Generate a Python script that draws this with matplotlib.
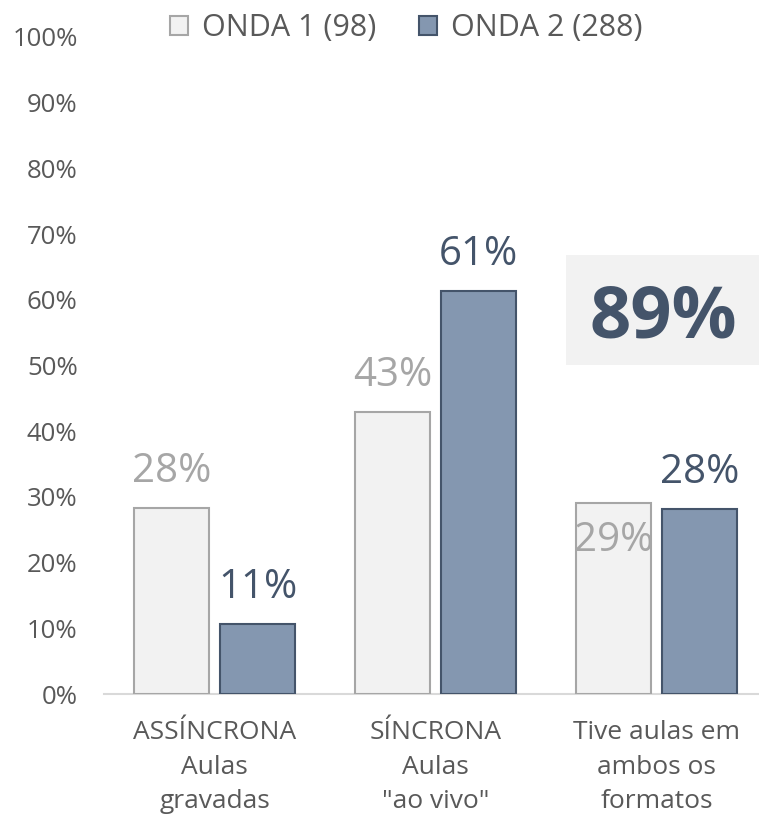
import matplotlib
matplotlib.use("Agg")
import matplotlib.pyplot as plt
from matplotlib.patches import Rectangle
import numpy as np

plt.rcParams['font.family'] = ['Open Sans', 'DejaVu Sans']

categories = ["ASSÍNCRONA\nAulas\ngravadas", "SÍNCRONA\nAulas\n\"ao vivo\"", "Tive aulas em\nambos os\nformatos"]
series_names = ["ONDA 1 (98)", "ONDA 2 (288)"]
onda1 = [28.3, 42.9, 29.1]
onda2 = [10.7, 61.4, 28.2]
onda1_labels = ["28%", "43%", "29%"]
onda2_labels = ["11%", "61%", "28%"]
highlight_text = "89%"
yticks = [0, 10, 20, 30, 40, 50, 60, 70, 80, 90, 100]
ytick_labels = [f"{v}%" for v in yticks]

W, H = 759, 819
fig = plt.figure(figsize=(W / 100, H / 100), dpi=100)
fig.add_artist(Rectangle((566 / W, 1 - 365 / H), (759 - 566) / W, 110 / H, transform=fig.transFigure,
                         facecolor="#F2F2F2", edgecolor="none", zorder=-1))
ax = fig.add_axes([104 / W, (H - 694) / H, (759 - 104) / W, 657 / H])
ax.patch.set_alpha(0)

x = np.arange(len(categories))
bw = 75 / 221
off = 43 / 221
c1_fill, c1_edge = "#F2F2F2", "#A6A6A6"
c2_fill, c2_edge = "#8497B0", "#44546A"

b1 = ax.bar(x - off, onda1, bw, color=c1_fill, edgecolor=c1_edge, linewidth=1.5, label=series_names[0], zorder=2)
b2 = ax.bar(x + off, onda2, bw, color=c2_fill, edgecolor=c2_edge, linewidth=1.5, label=series_names[1], zorder=2)

# label offsets in points (vertical center relative to bar top)
off1 = [26, 26, -27]
off2 = [26, 26, 26]
for i in range(len(categories)):
    ax.annotate(onda1_labels[i], (x[i] - off, onda1[i]), xytext=(0, off1[i]), textcoords="offset points",
                ha="center", va="center", fontsize=29, color=c1_edge, zorder=3)
    ax.annotate(onda2_labels[i], (x[i] + off, onda2[i]), xytext=(0, off2[i]), textcoords="offset points",
                ha="center", va="center", fontsize=29, color=c2_edge, zorder=3)

ax.set_xlim(-0.5, 2 + 102.5 / 221)
ax.set_ylim(0, 100)
ax.set_yticks(yticks)
ax.set_yticklabels(ytick_labels)
ax.set_xticks(x)
ax.set_xticklabels(categories, linespacing=1.5)
ax.tick_params(axis="y", length=0, pad=19, labelsize=18.5, labelcolor="#595959")
ax.tick_params(axis="x", length=0, pad=19, labelsize=19, labelcolor="#595959")
for s in ["top", "right", "left"]:
    ax.spines[s].set_visible(False)
ax.spines["bottom"].set_color("#D9D9D9")
ax.spines["bottom"].set_linewidth(1.5)
ax.spines["bottom"].set_zorder(1)

leg = fig.legend(handles=[b1, b2], loc="center", bbox_to_anchor=(406 / W, 1 - 28 / H), ncol=2, frameon=False,
                 fontsize=22, handlelength=0.6, handleheight=0.6, handletextpad=0.45, columnspacing=1.4,
                 labelcolor="#595959")

fig.text(663 / W, 1 - 338 / H, highlight_text, ha="center", va="baseline", fontsize=52, fontweight="bold",
         color="#44546A")

fig.savefig("out.png", dpi=100, facecolor="white")
